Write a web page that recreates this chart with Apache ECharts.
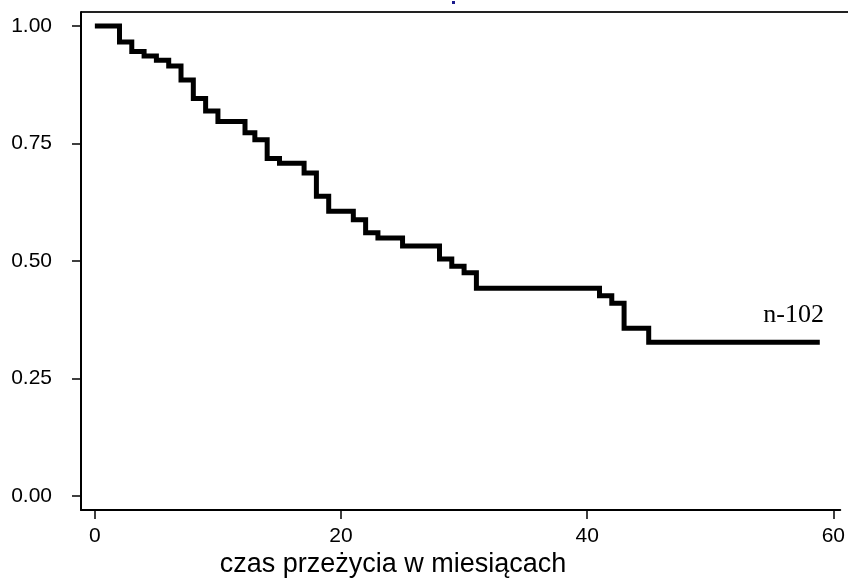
<!DOCTYPE html>
<html>
<head>
<meta charset="utf-8">
<script src="https://cdn.jsdelivr.net/npm/echarts@6/dist/echarts.min.js"></script>
<style>
  html, body { margin: 0; padding: 0; background: #fff; }
  #chart { width: 848px; height: 579px; }
</style>
</head>
<body>
<div id="chart"></div>
<script>
// Kaplan-Meier survival estimate (time in months)
const months = [0, 2, 3, 4, 5, 6, 7, 8, 9, 10, 12.2, 13, 14, 15, 17, 18, 19, 21, 22, 23, 25, 28, 29, 30, 31, 41, 42, 43, 45, 58.9];
const survival = [1.0, 0.966, 0.946, 0.936, 0.927, 0.915, 0.885, 0.846, 0.819, 0.797, 0.773, 0.758, 0.718, 0.708, 0.687, 0.638, 0.606, 0.588, 0.560, 0.549, 0.532, 0.504, 0.489, 0.475, 0.442, 0.426, 0.410, 0.357, 0.327, 0.327];
const xTicks = [0, 20, 40, 60];
const yTicks = [0, 0.25, 0.5, 0.75, 1];
const xTitle = 'czas przeżycia w miesiącach';
const groupLabel = 'n-102';

const chart = echarts.init(document.getElementById('chart'), null, { renderer: 'canvas' });

const sans = '"Liberation Sans", Arial, sans-serif';
const serif = '"Liberation Serif", "Times New Roman", serif';

chart.setOption({
  animation: false,
  backgroundColor: '#fff',
  grid: { left: 81, right: 0, top: 12, bottom: 69, containLabel: false },
  xAxis: {
    type: 'value',
    min: -1.126,
    max: 60.565,
    splitLine: { show: false },
    axisLine: { show: true, onZero: false, lineStyle: { color: '#000', width: 2 } },
    axisTick: { show: true, customValues: xTicks, length: 9, lineStyle: { color: '#000', width: 1.5 } },
    axisLabel: { customValues: xTicks, margin: 16, color: '#000', fontSize: 21, fontFamily: sans }
  },
  yAxis: {
    type: 'value',
    min: -0.0298,
    max: 1.0298,
    splitLine: { show: false },
    axisLine: { show: true, onZero: false, lineStyle: { color: '#000', width: 2 } },
    axisTick: { show: true, customValues: yTicks, length: 9, lineStyle: { color: '#000', width: 1.5 } },
    axisLabel: {
      customValues: yTicks, margin: 29, color: '#000', fontSize: 21, fontFamily: sans,
      formatter: v => v.toFixed(2)
    }
  },
  series: [{
    type: 'line',
    step: 'end',
    showSymbol: false,
    data: months.map((m, i) => [m, survival[i]]),
    lineStyle: { color: '#000', width: 5, cap: 'butt', join: 'miter' }
  }],
  graphic: [
    { type: 'line', shape: { x1: 81, y1: 12, x2: 848, y2: 12 }, style: { stroke: '#222', lineWidth: 2 } },
    { type: 'rect', shape: { x: 452, y: 1, width: 3, height: 3 }, style: { fill: '#1a1a8c' } },
    { type: 'text', x: 393, y: 565, style: { text: xTitle, font: '27px ' + sans, fill: '#000', align: 'center', verticalAlign: 'middle' } },
    { type: 'text', x: 824, y: 315, style: { text: groupLabel, font: '26px ' + serif, fill: '#000', align: 'right', verticalAlign: 'middle' } }
  ]
});
</script>
</body>
</html>
